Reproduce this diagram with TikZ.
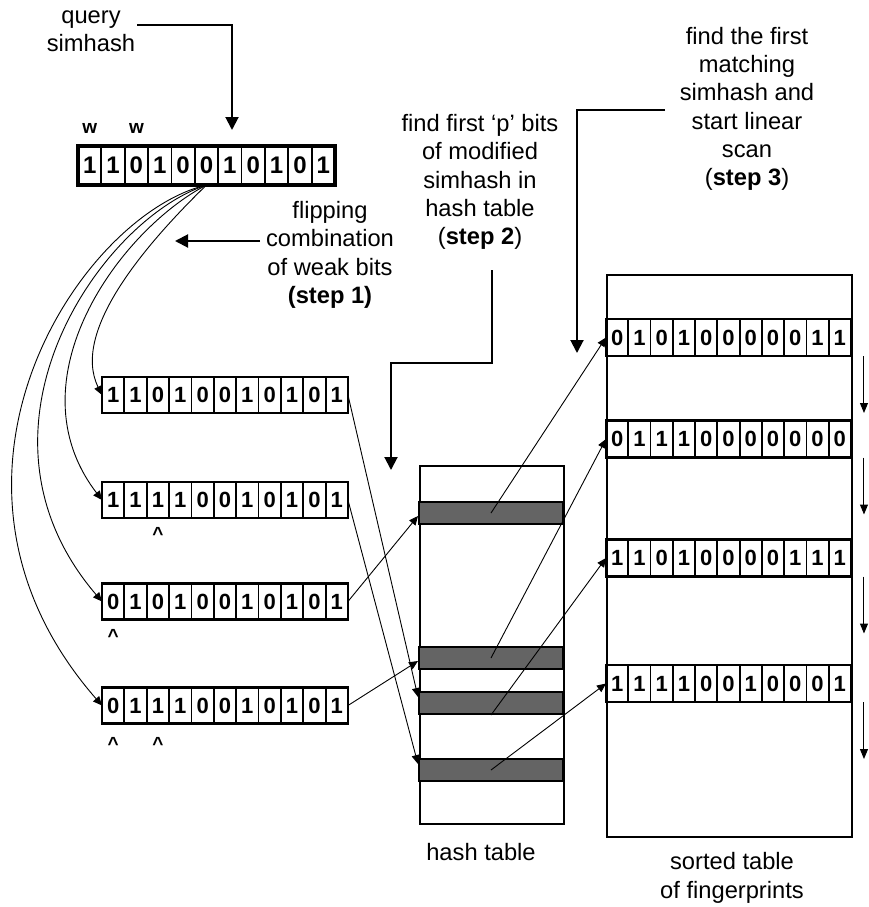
\documentclass[tikz,border=0pt]{standalone}
\usepackage{fontspec}
\setmainfont{Liberation Sans}
\usepackage{tikz}
\usetikzlibrary{calc,positioning,arrows.meta}
\definecolor{slotGray}{HTML}{646464}
\newcommand{\lblfont}{\fontsize{23.7}{28.3}\selectfont}
\newcommand{\bitfont}{\fontsize{22}{22}\selectfont\bfseries}
\newcommand{\qbitfont}{\fontsize{24}{24}\selectfont\bfseries}
\newcommand{\tagfont}{\fontsize{19}{19}\selectfont\bfseries}

% bit row: name, left edge, centre y, cell width, cell height, extra style, bits
\newcommand{\bitrow}[7]{%
  \foreach \b [count=\i] in {#7}
    \node[bitcell, minimum width=#4, minimum height=#5, #6] (#1-\i) at ({#2+(\i-0.5)*#4}, #3) {\b};
  \draw[rowframe] (#1-1.north west) rectangle (#1-11.south east);
}

\begin{document}
\begin{tikzpicture}[
  x=1pt, y=-1pt,
  every node/.style={font=\lblfont},
  tag/.style={align=center, inner sep=0pt},
  bitcell/.style={draw, line width=1.8pt, inner sep=0pt, outer sep=0pt, font=\bitfont},
  rowframe/.style={line width=2.4pt},
  slot/.style={draw, line width=2pt, fill=slotGray, minimum width=144pt,
    minimum height=22pt, inner sep=0pt},
  table/.style={draw, line width=2pt, inner sep=0pt, anchor=north west},
  weaktag/.style={font=\tagfont, inner sep=0pt},
  steparrow/.style={line width=2pt, -{Triangle[length=13pt,width=13pt]}},
  thinarrow/.style={line width=0.9pt, -{Triangle[length=9pt,width=8pt]}},
  scanarrow/.style={line width=1pt, -{Triangle[length=10pt,width=8pt]}},
]
\useasboundingbox (0,0) rectangle (868,907);

% === Query simhash ===
\node[tag] (qlabel) at (91,31) {query\\simhash};
\bitrow{q}{78}{165.5}{23.36}{39}{font=\qbitfont}{1,1,0,1,0,0,1,0,1,0,1}
\draw[line width=3.8pt] (q-1.north west) rectangle (q-11.south east);
\node[weaktag, anchor=base] (w1) at ([yshift=13]q-1.north) {w};
\node[weaktag, anchor=base] (w3) at ([yshift=13]q-3.north) {w};

% === Modified simhashes ===
\bitrow{m1}{102}{395}{22.36}{36}{}{1,1,0,1,0,0,1,0,1,0,1}
\bitrow{m2}{102}{500}{22.36}{36}{}{1,1,1,1,0,0,1,0,1,0,1}
\bitrow{m3}{102}{601.5}{22.36}{36}{}{0,1,0,1,0,0,1,0,1,0,1}
\bitrow{m4}{102}{705.5}{22.36}{36}{}{0,1,1,1,0,0,1,0,1,0,1}
\node[weaktag, anchor=north] (c2) at ([yshift=-9]m2-3.south) {\textasciicircum};
\node[weaktag, anchor=north] (c3) at ([yshift=-10]m3-1.south) {\textasciicircum};
\node[weaktag, anchor=north] (c4a) at ([yshift=-14]m4-1.south) {\textasciicircum};
\node[weaktag, anchor=north] (c4b) at ([yshift=-14]m4-3.south) {\textasciicircum};

% === Hash table ===
\node[table, minimum width=144pt, minimum height=358pt] (hash) at (419,465) {};
\node[slot] (slot1) at (491,513) {};
\node[slot] (slot2) at (491,658) {};
\node[slot] (slot3) at (491,703) {};
\node[slot] (slot4) at (491,770) {};
\node[tag] (hashlabel) at (481,852) {hash table};

% === Sorted table of fingerprints ===
\node[table, minimum width=245pt, minimum height=562pt] (sorted) at (606,274) {};
\bitrow{r1}{606}{337.5}{22.27}{37}{}{0,1,0,1,0,0,0,0,0,1,1}
\bitrow{r2}{606}{439}{22.27}{37}{}{0,1,1,1,0,0,0,0,0,0,0}
\bitrow{r3}{606}{558}{22.27}{37}{}{1,1,0,1,0,0,0,0,1,1,1}
\bitrow{r4}{606}{683.5}{22.27}{37}{}{1,1,1,1,0,0,1,0,0,0,1}
\node[tag] (sortlabel) at (732,878) {sorted table\\of fingerprints};
\foreach \r in {r1,r2,r3,r4}
  \draw[scanarrow] ($(\r-11.south east)+(13,0)$) -- ++(0,57);

% === Step labels ===
\node[tag] (step1) at (330,255) {flipping\\combination\\of weak bits\\\textbf{(step 1)}};
\node[tag] (step2) at (480,182) {find first ‘p’ bits\\of modified\\simhash in\\hash table\\(\textbf{step 2})};
\node[tag] (step3) at (747,109) {find the first\\matching\\simhash and\\start linear\\scan\\(\textbf{step 3})};

% === Step arrows ===
\coordinate (qstart) at (137,25);
\coordinate (qtip) at (232,130);
\draw[steparrow] (qstart) -| (qtip);
\coordinate (s1start) at (260,241);
\coordinate (s1tip) at (175,241);
\draw[steparrow] (s1start) -- (s1tip);
\coordinate (s2start) at (492,270);
\coordinate (s2turn) at (391,363);
\coordinate (s2tip) at (391,470);
\draw[steparrow] (s2start) |- (s2turn) -- (s2tip);
\coordinate (s3start) at (665,110);
\coordinate (s3tip) at (577,353);
\draw[steparrow] (s3start) -| (s3tip);

% === Flipping curves ===
\draw[thinarrow] (q-6.south) .. controls (150,240) and (70,330) .. (m1-1.west);
\draw[thinarrow] (q-6.south) .. controls (120,230) and (10,380) .. (m2-1.west);
\draw[thinarrow] (q-6.south) .. controls (100,220) and (-45,430) .. (m3-1.west);
\draw[thinarrow] (q-6.south) .. controls (80,215) and (-95,480) .. (m4-1.west);

% === Lookups ===
\draw[thinarrow] (m1-11.east) -- ([yshift=6]slot3.west);
\draw[thinarrow] (m2-11.east) -- ([yshift=6]slot4.west);
\draw[thinarrow] (m3-11.east) -- ([yshift=-3]slot1.west);
\draw[thinarrow] (m4-11.east) -- ([yshift=-3]slot2.west);
\draw[thinarrow] (slot1.center) -- (r1-1.west);
\draw[thinarrow] (slot2.center) -- (r2-1.west);
\draw[thinarrow] (slot3.south) -- (r3-1.west);
\draw[thinarrow] (slot4.center) -- (r4-1.west);

\end{tikzpicture}
\end{document}
